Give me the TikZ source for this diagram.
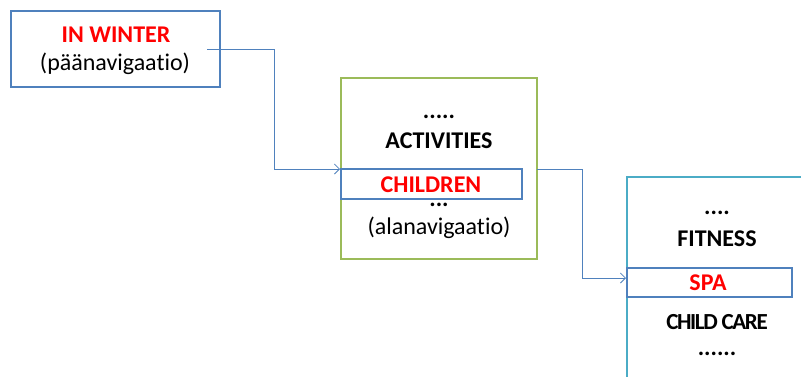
\documentclass[tikz,border=0pt]{standalone}
\usepackage{fontspec}
\setmainfont[Ligatures=NoCommon]{Carlito}
\usetikzlibrary{arrows.meta}
\definecolor{boxblue}{HTML}{4F81BD}
\definecolor{boxgreen}{HTML}{9BBB59}
\definecolor{boxteal}{HTML}{4BACC6}
\definecolor{txtred}{HTML}{FF0000}
\begin{document}
\begin{tikzpicture}[x=1pt,y=-1pt,
  frame/.style={draw=#1,line width=2pt,inner sep=0pt,minimum width=0pt},
  lbl/.style={inner sep=0pt,font=\fontsize{24}{28}\selectfont},
  blbl/.style={lbl,font=\fontsize{24}{28}\selectfont\bfseries},
  rlbl/.style={blbl,text=txtred},
  conn/.style={draw=boxblue,line width=0.8pt,-{Straight Barb[length=5pt,width=10pt]}}]
\clip (0,0) rectangle (801,376);
\fill[white] (0,0) rectangle (801,376);
% box 1
\draw[frame=boxblue] (11,11) rectangle (220,87);
\node[rlbl] (inwinter) at (116,35) {IN WINTER};
\node[lbl] (paa) at (115,64) {(päänavigaatio)};
% box 2
\draw[frame=boxgreen] (341,78) rectangle (537,259);
\node[blbl] (dots2a) at (439,117) {.....};
\node[blbl] (act) at (439,141) {ACTIVITIES};
\draw[frame=boxblue] (341,169) rectangle (522,199);
\node[rlbl] (children) at (431,185) {CHILDREN};
\node[blbl] (dots2b) at (439,205) {...};
\node[lbl] (ala) at (439,228) {(alanavigaatio)};
% box 3
\draw[frame=boxteal] (627,177) rectangle (830,400);
\node[blbl] (dots3a) at (717,213) {....};
\node[blbl] (fit) at (717,239) {FITNESS};
\draw[frame=boxblue] (627,268) rectangle (792,297);
\node[rlbl] (spa) at (708,283) {SPA};
\node[blbl,font=\fontsize{23}{28}\selectfont\bfseries\addfontfeature{LetterSpace=-6}] (cc) at (717,322) {CHILD CARE};
\node[blbl] (dots3b) at (717,354) {......};
% connectors
\coordinate (s1) at (207,49);
\coordinate (e1) at (340,169);
\coordinate (s2) at (537,169);
\coordinate (e2) at (626,278);
\draw[conn] (s1) -- (274,49) -- (274,169) -- (e1);
\draw[conn] (s2) -- (582,169) -- (582,278) -- (e2);
\end{tikzpicture}
\end{document}
